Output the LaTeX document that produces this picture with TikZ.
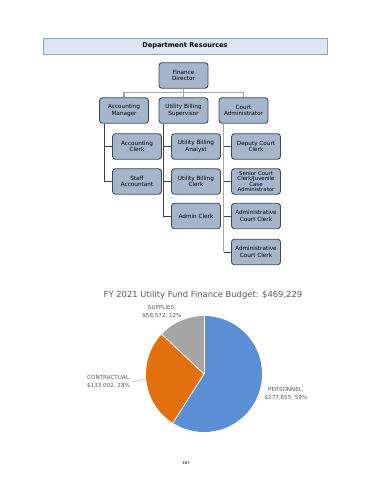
\documentclass[tikz,border=0pt]{standalone}
\usepackage{fontspec}
\setmainfont{DejaVu Sans}
\definecolor{boxfill}{HTML}{A5B5CB}
\definecolor{boxline}{HTML}{3E4A5A}
\definecolor{hdrfill}{HTML}{DCE6F2}
\definecolor{hdrline}{HTML}{8FA5C2}
\definecolor{linkgray}{HTML}{A6A6A6}
\definecolor{linkdark}{HTML}{404040}
\definecolor{pieblue}{HTML}{5A8FD6}
\definecolor{pieorange}{HTML}{E3700F}
\definecolor{piegray}{HTML}{A6A6A6}
\definecolor{txtgray}{HTML}{595959}
\tikzset{
  orgbox/.style={draw=boxline, line width=0.9pt, fill=boxfill, rounded corners=3pt,
    minimum width=49pt, minimum height=25.5pt, align=center, inner sep=0.5pt,
    font=\fontsize{5.7}{6.7}\selectfont},
  graylink/.style={draw=linkgray, line width=1.2pt},
  darklink/.style={draw=linkdark, line width=0.8pt},
  slice/.style={draw=white, line width=0.8pt},
  pielabel/.style={align=center, text=txtgray, font=\fontsize{5.6}{7.4}\selectfont, inner sep=0pt}
}
\begin{document}
\begin{tikzpicture}[x=1pt,y=1pt]
\useasboundingbox (0,0) rectangle (370,480);
\fill[white] (0,0) rectangle (370,480);
% header
\node[draw=hdrline, fill=hdrfill, line width=0.8pt, minimum width=284pt, minimum height=16pt,
  inner sep=0pt, font=\bfseries\fontsize{6.6}{7}\selectfont] (hdr) at (185,434) {Department Resources};
% org chart
\node[orgbox] (fd) at (183.5,404.5) {Finance\\Director};
\node[orgbox] (am) at (124,369.5) {Accounting\\Manager};
\node[orgbox] (ubs) at (183.5,369.5) {Utility Billing\\Supervisor};
\node[orgbox] (ca) at (243.5,369.5) {Court\\Administrator};
\node[orgbox] (ac) at (137,333.5) {Accounting\\Clerk};
\node[orgbox] (sa) at (137,298.5) {Staff\\Accountant};
\node[orgbox] (uba) at (196,333.5) {Utility Billing\\Analyst};
\node[orgbox] (ubc) at (196,298.5) {Utility Billing\\Clerk};
\node[orgbox] (adc) at (196,264) {Admin Clerk};
\node[orgbox] (dcc) at (256,333.5) {Deputy Court\\Clerk};
\node[orgbox, font=\fontsize{5.4}{5.6}\selectfont] (scc) at (256,298.5) {Senior Court\\Clerk/Juvenile\\Case\\Administrator};
\node[orgbox] (acc1) at (256,264) {Administrative\\Court Clerk};
\node[orgbox] (acc2) at (256,228) {Administrative\\Court Clerk};
% top connectors
\coordinate (bar) at (183.5,387.7);
\draw[graylink] (fd.south) -- (ubs.north);
\draw[graylink] (am.north) |- (bar) -| (ca.north);
% left branch
\coordinate (amL) at ([xshift=5.5pt]am.south west);
\draw[darklink] (amL) |- (ac.west);
\draw[darklink] (amL) |- (sa.west);
% middle branch
\coordinate (ubsL) at ([xshift=5pt]ubs.south west);
\draw[darklink] (ubsL) |- (uba.west);
\draw[darklink] (ubsL) |- (ubc.west);
\draw[darklink] (ubsL) |- (adc.west);
% right branch
\coordinate (caL) at ([xshift=5pt]ca.south west);
\draw[graylink] (caL) -- (caL |- acc2.west);
\draw[darklink] (caL |- dcc.west) -- (dcc.west);
\draw[darklink] (caL |- scc.west) -- (scc.west);
\draw[darklink] (caL |- acc1.west) -- (acc1.west);
\draw[darklink] (caL |- acc2.west) -- (acc2.west);
% pie
\node[text=txtgray, font=\fontsize{8.4}{10}\selectfont, inner sep=0pt] (title) at (203,185) {FY 2021 Utility Fund Finance Budget: \$469,229};
\coordinate (pc) at (204,106);
\fill[pieblue] (pc) -- ++(90:58) arc[start angle=90, end angle=-122.4, radius=58] -- cycle;
\fill[pieorange] (pc) -- ++(-122.4:58) arc[start angle=-122.4, end angle=-223.2, radius=58] -- cycle;
\fill[piegray] (pc) -- ++(136.8:58) arc[start angle=136.8, end angle=90, radius=58] -- cycle;
\draw[slice] (pc) -- ++(90:58);
\draw[slice] (pc) -- ++(-122.4:58);
\draw[slice] (pc) -- ++(136.8:58);
\node[pielabel] (lsup) at (162,168) {SUPPLIES,\\\$58,572, 12\%};
\node[pielabel, anchor=west, align=left] (lcon) at (87,98) {CONTRACTUAL,\\\$133,002, 28\%};
\node[pielabel] (lper) at (286,86) {PERSONNEL,\\\$277,655, 59\%};
\coordinate (conend) at (146,101);
\draw[linkgray, line width=0.4pt] ([xshift=1pt]lcon.east) -- (conend);
\node[font=\fontsize{4}{5}\selectfont, inner sep=0pt] (pg) at (186,17) {167};
\end{tikzpicture}
\end{document}
